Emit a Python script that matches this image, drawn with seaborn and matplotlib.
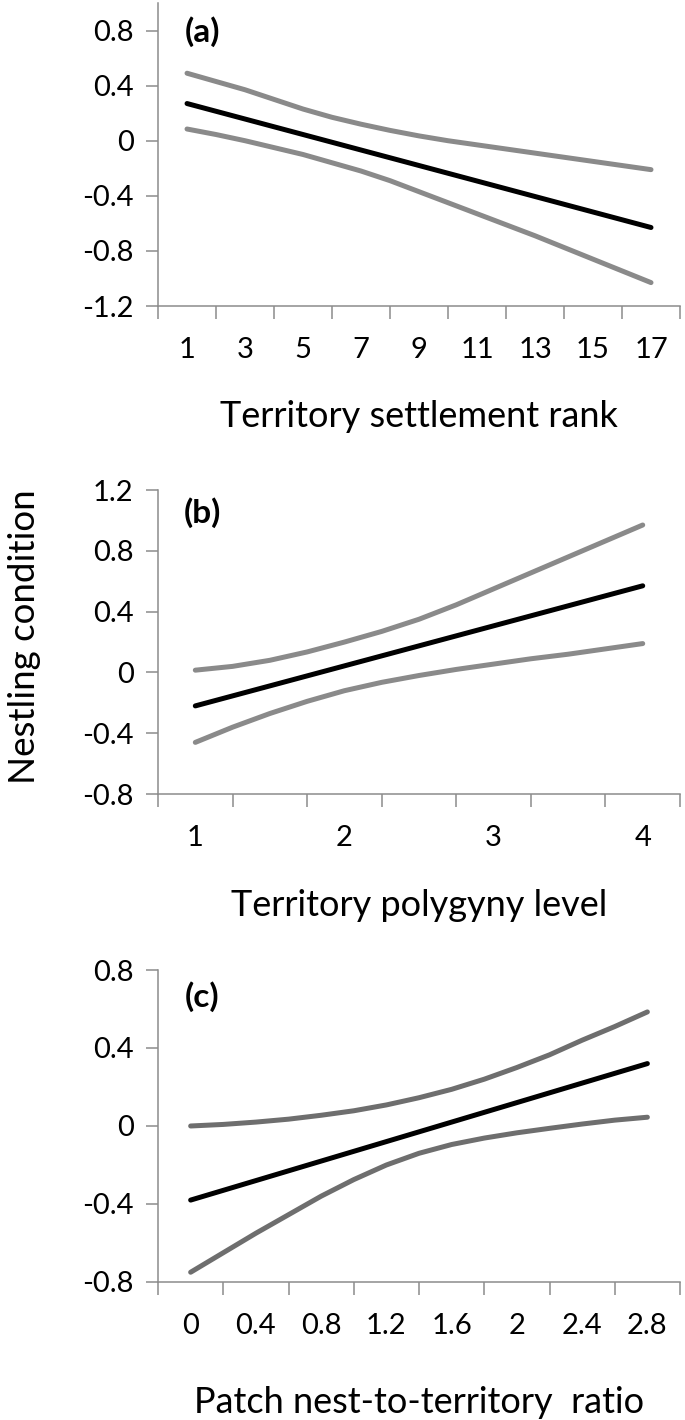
import matplotlib
matplotlib.use("Agg")
import matplotlib.pyplot as plt
import numpy as np
import pandas as pd
import seaborn as sns
from matplotlib.ticker import FixedLocator, FixedFormatter, NullFormatter

# ---------------- data ----------------
# (a) territory settlement rank
rank_x = [1, 2, 3, 4, 5, 6, 7, 8, 9, 10, 11, 12, 13, 14, 15, 16, 17]
rank_upper = [0.49, 0.43, 0.37, 0.30, 0.23, 0.17, 0.12, 0.075, 0.035,
              0.0, -0.03, -0.06, -0.09, -0.12, -0.15, -0.18, -0.21]
rank_lower = [0.085, 0.045, 0.0, -0.05, -0.10, -0.16, -0.22, -0.29, -0.37,
              -0.45, -0.53, -0.61, -0.69, -0.775, -0.86, -0.945, -1.03]
rank_fit_x = [1, 9, 17]
rank_fit = [0.27, -0.18, -0.63]
rank_ticks = [1, 3, 5, 7, 9, 11, 13, 15, 17]
rank_ticklabels = ["1", "3", "5", "7", "9", "11", "13", "15", "17"]

# (b) territory polygyny level
poly_x = [1, 1.25, 1.5, 1.75, 2, 2.25, 2.5, 2.75, 3, 3.25, 3.5, 3.75, 4]
poly_upper = [0.015, 0.04, 0.08, 0.135, 0.20, 0.27, 0.35, 0.445, 0.55,
              0.655, 0.76, 0.865, 0.97]
poly_lower = [-0.46, -0.36, -0.27, -0.19, -0.12, -0.065, -0.02, 0.02, 0.055,
              0.09, 0.12, 0.155, 0.19]
poly_fit_x = [1, 2.5, 4]
poly_fit = [-0.22, 0.175, 0.57]
poly_ticks = [1, 2, 3, 4]
poly_ticklabels = ["1", "2", "3", "4"]

# (c) patch nest-to-territory ratio
ratio_x = [0, 0.2, 0.4, 0.6, 0.8, 1.0, 1.2, 1.4, 1.6, 1.8, 2.0, 2.2, 2.4, 2.6, 2.8]
ratio_upper = [0.0, 0.008, 0.02, 0.035, 0.055, 0.078, 0.108, 0.145, 0.188,
               0.24, 0.30, 0.365, 0.44, 0.51, 0.585]
ratio_lower = [-0.75, -0.65, -0.55, -0.455, -0.36, -0.275, -0.20, -0.14, -0.095,
               -0.062, -0.035, -0.012, 0.01, 0.03, 0.045]
ratio_fit_x = [0, 1.4, 2.8]
ratio_fit = [-0.38, -0.03, 0.32]
ratio_ticks = [0, 0.4, 0.8, 1.2, 1.6, 2.0, 2.4, 2.8]
ratio_ticklabels = ["0", "0.4", "0.8", "1.2", "1.6", "2", "2.4", "2.8"]

panel_labels = ["(a)", "(b)", "(c)"]
xlabels = ["Territory settlement rank", "Territory polygyny level",
           "Patch nest-to-territory  ratio"]
ylabel = "Nestling condition"

# ---------------- style ----------------
sns.set_style("white")
plt.rcParams["font.family"] = ["Lato", "DejaVu Sans"]

spine_col = "#8c8c8c"
txt_col = "#000000"
fig = plt.figure(figsize=(6.85, 14.2), dpi=100)

panels = [
    dict(pos=[0.2307, 0.7845, 0.7620, 0.2134], x=rank_x, up=rank_upper, lo=rank_lower,
         fx=rank_fit_x, fit=rank_fit, xlim=(0, 18),
         major=np.arange(0, 18.1, 2), minor=rank_ticks, mlabels=rank_ticklabels,
         ylim=(-1.2, 1.0), yticks=[-1.2, -0.8, -0.4, 0, 0.4, 0.8],
         ci_col="#8a8a8a", xlab_y=-0.363, lab_y=0.905),
    dict(pos=[0.2307, 0.4408, 0.7620, 0.2141], x=poly_x, up=poly_upper, lo=poly_lower,
         fx=poly_fit_x, fit=poly_fit, xlim=(0.75, 4.25),
         major=np.arange(0.75, 4.26, 0.5), minor=poly_ticks, mlabels=poly_ticklabels,
         ylim=(-0.8, 1.2), yticks=[-0.8, -0.4, 0, 0.4, 0.8, 1.2],
         ci_col="#8a8a8a", xlab_y=-0.365, lab_y=0.925),
    dict(pos=[0.2307, 0.0972, 0.7620, 0.2197], x=ratio_x, up=ratio_upper, lo=ratio_lower,
         fx=ratio_fit_x, fit=ratio_fit, xlim=(-0.2, 3.0),
         major=np.arange(-0.2, 3.01, 0.4), minor=ratio_ticks, mlabels=ratio_ticklabels,
         ylim=(-0.8, 0.8), yticks=[-0.8, -0.4, 0, 0.4, 0.8],
         ci_col="#6e6e6e", xlab_y=-0.385, lab_y=0.915),
]

def ylab(v):
    if abs(v) < 1e-9:
        return "0"
    return f"{v:.1f}"

line_kw = dict(linewidth=3.6, solid_capstyle="round", solid_joinstyle="round",
               sort=False, estimator=None)

for i, p in enumerate(panels):
    ax = fig.add_axes(p["pos"])
    sns.lineplot(x=p["x"], y=p["up"], ax=ax, color=p["ci_col"], **line_kw)
    sns.lineplot(x=p["x"], y=p["lo"], ax=ax, color=p["ci_col"], **line_kw)
    sns.lineplot(x=p["fx"], y=p["fit"], ax=ax, color="black", **line_kw)
    ax.set_xlim(*p["xlim"])
    ax.set_ylim(*p["ylim"])
    ax.xaxis.set_major_locator(FixedLocator(p["major"]))
    ax.xaxis.set_major_formatter(NullFormatter())
    ax.xaxis.set_minor_locator(FixedLocator(p["minor"]))
    ax.xaxis.set_minor_formatter(FixedFormatter(p["mlabels"]))
    ax.set_yticks(p["yticks"])
    ax.set_yticklabels([ylab(v) for v in p["yticks"]])
    ax.tick_params(axis="x", which="major", direction="out", length=9.4, width=1.1,
                   color=spine_col, bottom=True)
    ax.tick_params(axis="x", which="minor", length=0, pad=22, labelsize=21,
                   labelcolor=txt_col, bottom=True)
    ax.tick_params(axis="y", which="major", direction="out", length=8.6, width=1.1,
                   color=spine_col, pad=9, labelsize=21, labelcolor=txt_col, left=True)
    for s in ("top", "right"):
        ax.spines[s].set_visible(False)
    for s in ("left", "bottom"):
        ax.spines[s].set_color(spine_col)
        ax.spines[s].set_linewidth(1.1)
    ax.set_xlabel(xlabels[i], fontsize=26, color=txt_col)
    ax.xaxis.set_label_coords(0.5, p["xlab_y"])
    ax.xaxis.label.set_va("center")
    ax.set_ylabel("")
    ax.text(0.085, p["lab_y"], panel_labels[i], transform=ax.transAxes,
            fontsize=24, fontweight="bold", ha="center", va="center", color="black")

fig.text(25 / 685, 1 - 637 / 1420, ylabel, rotation=90, fontsize=26.5,
         ha="center", va="center", color=txt_col)

fig.savefig("out.png", dpi=100, facecolor="white")
